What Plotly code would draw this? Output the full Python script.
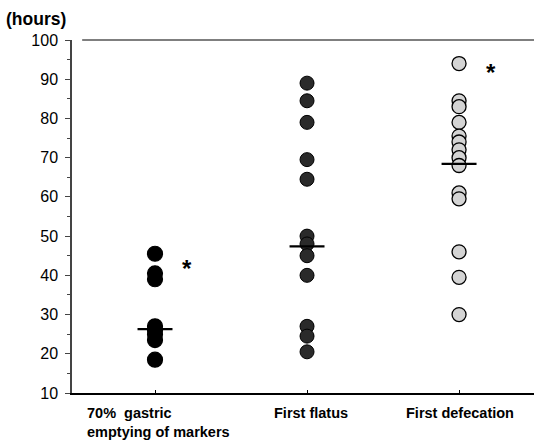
import plotly.graph_objects as go

categories = ["70%  gastric<br>emptying of markers", "First flatus", "First defecation"]
gastric = [45.5, 40.5, 39.0, 27.0, 26.0, 25.0, 23.5, 18.5]
flatus = [89.0, 84.5, 79.0, 69.5, 64.5, 50.0, 48.0, 45.0, 40.0, 27.0, 24.5, 20.5]
defecation = [94.0, 84.5, 83.0, 79.0, 75.5, 74.0, 72.0, 70.0, 68.0, 61.0, 59.5, 46.0, 39.5, 30.0]
medians = [26.3, 47.4, 68.4]
star_values = [42.5, None, 92.5]
y_ticks = [10, 20, 30, 40, 50, 60, 70, 80, 90, 100]

FONT = "Liberation Sans"
fig = go.Figure()

styles = [
    dict(size=15, color="black", line=dict(color="black", width=1.2)),
    dict(size=14, color="#2a2a2a", line=dict(color="black", width=1)),
    dict(size=14, color="#d4d4d4", line=dict(color="black", width=1.3)),
]
for i, vals in enumerate([gastric, flatus, defecation]):
    fig.add_trace(go.Scatter(x=[i] * len(vals), y=vals, mode="markers",
                             marker=dict(symbol="circle", **styles[i]),
                             showlegend=False, hoverinfo="y"))

hw = 0.115
for i, m in enumerate(medians):
    fig.add_trace(go.Scatter(x=[i - hw, i + hw], y=[m, m], mode="lines",
                             line=dict(color="black", width=2.2),
                             showlegend=False, hoverinfo="skip"))

for i, s in enumerate(star_values):
    if s is not None:
        fig.add_annotation(x=i + 0.21, y=s, text="<b>*</b>", showarrow=False,
                           yshift=-3,
                           font=dict(family=FONT, size=24, color="black"))

# category labels
lab_font = dict(family=FONT, size=14.5, color="black")
fig.add_annotation(x=0, xref="x", y=-0.028, yref="paper", text="<b>" + categories[0] + "</b>",
                   showarrow=False, xanchor="left", yanchor="top", align="left",
                   xshift=-70, font=lab_font)
fig.add_annotation(x=1, xref="x", y=-0.028, yref="paper", text="<b>" + categories[1] + "</b>",
                   showarrow=False, xanchor="center", yanchor="top", xshift=4,
                   font=lab_font)
fig.add_annotation(x=2, xref="x", y=-0.028, yref="paper", text="<b>" + categories[2] + "</b>",
                   showarrow=False, xanchor="center", yanchor="top", xshift=1,
                   font=lab_font)

fig.add_annotation(x=0, xref="paper", y=100, yref="y", text="<b>(hours)</b>", showarrow=False,
                   xanchor="left", yanchor="bottom", xshift=-68, yshift=9,
                   font=dict(family=FONT, size=17.5, color="black"))

# top border line
fig.add_shape(type="line", xref="paper", yref="paper", x0=0.022, x1=1, y0=1, y1=1,
              line=dict(color="black", width=1.2))

fig.update_layout(
    width=534, height=445,
    margin=dict(l=72, r=0, t=40, b=52),
    plot_bgcolor="white", paper_bgcolor="white",
    xaxis=dict(range=[-0.546, 2.493], tickvals=[0, 1, 2], ticktext=["", "", ""],
               ticks="inside", ticklen=3, tickcolor="black", showgrid=False, zeroline=False,
               showline=True, linecolor="black", linewidth=1.5),
    yaxis=dict(range=[10, 100], tickvals=y_ticks, ticks="outside", ticklen=5,
               tickcolor="#444", showgrid=False, zeroline=False,
               showline=True, linecolor="#444", linewidth=1.5,
               ticklabelstandoff=4,
               tickfont=dict(family=FONT, size=16, color="black"),
               minor=dict(dtick=5, ticks="outside", ticklen=3, tickcolor="#444")),
)
fig.update_yaxes(tickprefix="<b>", ticksuffix="</b>")

fig.write_html("out.html")
